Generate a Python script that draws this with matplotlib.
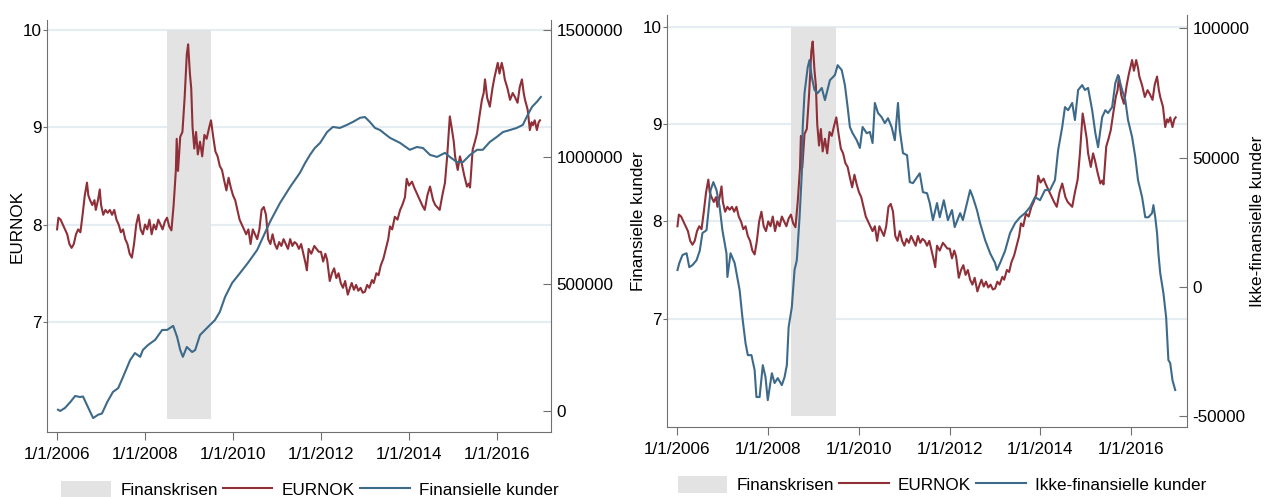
import matplotlib
matplotlib.use("Agg")
import matplotlib.pyplot as plt
from matplotlib.patches import Patch
from matplotlib.lines import Line2D
from matplotlib.ticker import FuncFormatter

plt.rcParams['font.family'] = ['Liberation Sans', 'DejaVu Sans']

# --- EURNOK (decimal year, kurs) ---
eurnok_years = [
    2006.00, 2006.03, 2006.08, 2006.13, 2006.18, 2006.23, 2006.28, 2006.33, 2006.38, 2006.43,
    2006.48, 2006.53, 2006.58, 2006.63, 2006.68, 2006.71, 2006.75, 2006.80, 2006.85, 2006.88,
    2006.93, 2006.97, 2007.00, 2007.05, 2007.10, 2007.15, 2007.20, 2007.25, 2007.30, 2007.35,
    2007.40, 2007.45, 2007.50, 2007.55, 2007.60, 2007.65, 2007.70, 2007.75, 2007.80, 2007.85,
    2007.90, 2007.95, 2008.00, 2008.05, 2008.10, 2008.15, 2008.20, 2008.25, 2008.30, 2008.35,
    2008.40, 2008.45, 2008.50, 2008.55, 2008.60, 2008.65, 2008.70, 2008.72, 2008.75, 2008.80,
    2008.85, 2008.90, 2008.95, 2008.98, 2009.02, 2009.05, 2009.08, 2009.12, 2009.16, 2009.20,
    2009.25, 2009.30, 2009.35, 2009.40, 2009.45, 2009.50, 2009.55, 2009.60, 2009.65, 2009.70,
    2009.75, 2009.80, 2009.85, 2009.90, 2009.95, 2010.00, 2010.05, 2010.10, 2010.15, 2010.20,
    2010.25, 2010.30, 2010.35, 2010.40, 2010.45, 2010.50, 2010.55, 2010.60, 2010.65, 2010.70,
    2010.75, 2010.80, 2010.85, 2010.90, 2010.95, 2011.00, 2011.05, 2011.10, 2011.15, 2011.20,
    2011.25, 2011.30, 2011.35, 2011.40, 2011.45, 2011.50, 2011.55, 2011.60, 2011.65, 2011.68,
    2011.72, 2011.78, 2011.85, 2011.90, 2011.95, 2012.00, 2012.05, 2012.10, 2012.14, 2012.20,
    2012.25, 2012.30, 2012.35, 2012.40, 2012.45, 2012.50, 2012.55, 2012.61, 2012.66, 2012.70,
    2012.75, 2012.80, 2012.85, 2012.90, 2012.95, 2013.00, 2013.05, 2013.10, 2013.16, 2013.20,
    2013.26, 2013.31, 2013.36, 2013.42, 2013.48, 2013.53, 2013.57, 2013.62, 2013.68, 2013.74,
    2013.80, 2013.85, 2013.91, 2013.95, 2014.00, 2014.07, 2014.12, 2014.18, 2014.25, 2014.30,
    2014.36, 2014.42, 2014.48, 2014.55, 2014.60, 2014.64, 2014.70, 2014.76, 2014.82, 2014.87,
    2014.93, 2014.97, 2015.02, 2015.05, 2015.11, 2015.16, 2015.20, 2015.26, 2015.32, 2015.36,
    2015.39, 2015.45, 2015.50, 2015.55, 2015.60, 2015.66, 2015.70, 2015.73, 2015.78, 2015.84,
    2015.90, 2015.95, 2016.02, 2016.06, 2016.11, 2016.15, 2016.18, 2016.24, 2016.30, 2016.36,
    2016.41, 2016.47, 2016.52, 2016.57, 2016.61, 2016.64, 2016.70, 2016.75, 2016.79, 2016.82,
    2016.86, 2016.91, 2016.95, 2016.98,
]
eurnok = [
    7.95, 8.07, 8.05, 8.00, 7.95, 7.90, 7.80, 7.76, 7.80, 7.90,
    7.95, 7.92, 8.10, 8.30, 8.43, 8.30, 8.25, 8.20, 8.25, 8.15,
    8.25, 8.36, 8.20, 8.10, 8.15, 8.12, 8.15, 8.10, 8.15, 8.05,
    8.00, 7.92, 7.95, 7.85, 7.80, 7.70, 7.66, 7.80, 8.00, 8.10,
    7.95, 7.90, 8.00, 7.95, 8.05, 7.90, 8.00, 7.95, 8.05, 8.00,
    7.95, 8.03, 8.07, 7.98, 7.94, 8.20, 8.55, 8.88, 8.55, 8.90,
    8.95, 9.30, 9.75, 9.85, 9.55, 9.40, 9.00, 8.78, 8.95, 8.72,
    8.85, 8.70, 8.92, 8.88, 8.98, 9.07, 8.90, 8.75, 8.70, 8.60,
    8.56, 8.45, 8.35, 8.48, 8.38, 8.30, 8.25, 8.15, 8.05, 8.00,
    7.95, 7.90, 7.95, 7.80, 7.95, 7.90, 7.85, 7.95, 8.15, 8.18,
    8.10, 7.85, 7.80, 7.90, 7.80, 7.75, 7.82, 7.78, 7.85, 7.80,
    7.75, 7.85, 7.78, 7.82, 7.80, 7.75, 7.80, 7.70, 7.60, 7.53,
    7.75, 7.70, 7.78, 7.75, 7.72, 7.72, 7.62, 7.70, 7.64, 7.42,
    7.50, 7.55, 7.45, 7.50, 7.40, 7.35, 7.42, 7.28, 7.35, 7.40,
    7.33, 7.38, 7.32, 7.35, 7.30, 7.31, 7.38, 7.35, 7.43, 7.40,
    7.50, 7.48, 7.58, 7.65, 7.76, 7.85, 7.98, 7.95, 8.08, 8.05,
    8.15, 8.20, 8.28, 8.47, 8.40, 8.44, 8.38, 8.32, 8.25, 8.20,
    8.15, 8.30, 8.39, 8.25, 8.20, 8.18, 8.15, 8.30, 8.43, 8.70,
    9.11, 9.00, 8.85, 8.70, 8.56, 8.70, 8.63, 8.50, 8.39, 8.42,
    8.38, 8.77, 8.85, 8.94, 9.10, 9.28, 9.35, 9.49, 9.30, 9.21,
    9.40, 9.52, 9.66, 9.55, 9.66, 9.58, 9.49, 9.40, 9.28, 9.35,
    9.31, 9.25, 9.41, 9.49, 9.35, 9.28, 9.18, 8.97, 9.05, 9.02,
    9.07, 8.97, 9.05, 9.07,
]

# --- Finansielle kunder ---
fin_years = [
    2006.02, 2006.07, 2006.18, 2006.30, 2006.41, 2006.52, 2006.59, 2006.70, 2006.82, 2006.93,
    2007.02, 2007.14, 2007.27, 2007.39, 2007.50, 2007.66, 2007.77, 2007.89, 2007.95, 2008.07,
    2008.23, 2008.39, 2008.50, 2008.64, 2008.73, 2008.80, 2008.86, 2008.95, 2009.07, 2009.14,
    2009.25, 2009.41, 2009.59, 2009.70, 2009.82, 2009.98, 2010.16, 2010.34, 2010.55, 2010.84,
    2011.07, 2011.30, 2011.52, 2011.64, 2011.75, 2011.86, 2011.98, 2012.14, 2012.27, 2012.43,
    2012.59, 2012.73, 2012.89, 2013.00, 2013.11, 2013.23, 2013.34, 2013.57, 2013.80, 2014.02,
    2014.18, 2014.32, 2014.48, 2014.64, 2014.82, 2014.93, 2015.09, 2015.23, 2015.39, 2015.55,
    2015.68, 2015.84, 2016.00, 2016.14, 2016.30, 2016.45, 2016.59, 2016.70, 2016.80, 2016.91,
    2017.00,
]
fin_kunder = [
    5000, 0, 12000, 35000, 59000, 55000, 57000, 16000, -28000, -15000,
    -10000, 35000, 75000, 90000, 134000, 200000, 228000, 213000, 240000, 260000,
    280000, 319000, 319000, 335000, 291000, 240000, 213000, 252000, 232000, 240000,
    299000, 327000, 358000, 390000, 449000, 504000, 543000, 583000, 634000, 744000,
    819000, 882000, 937000, 976000, 1008000, 1035000, 1055000, 1098000, 1118000, 1114000,
    1126000, 1138000, 1154000, 1157000, 1138000, 1114000, 1106000, 1075000, 1055000, 1028000,
    1039000, 1035000, 1008000, 1000000, 1016000, 1000000, 980000, 980000, 1008000, 1028000,
    1028000, 1059000, 1079000, 1098000, 1106000, 1114000, 1126000, 1165000, 1197000, 1217000,
    1236000,
]

# --- Ikke-finansielle kunder ---
ikke_years = [
    2006.00, 2006.04, 2006.11, 2006.20, 2006.26, 2006.33, 2006.42, 2006.49, 2006.55, 2006.64,
    2006.73, 2006.79, 2006.86, 2006.93, 2006.99, 2007.08, 2007.10, 2007.17, 2007.26, 2007.37,
    2007.43, 2007.50, 2007.55, 2007.63, 2007.70, 2007.74, 2007.81, 2007.88, 2007.94, 2007.99,
    2008.08, 2008.14, 2008.21, 2008.30, 2008.36, 2008.41, 2008.45, 2008.52, 2008.58, 2008.63,
    2008.69, 2008.74, 2008.76, 2008.80, 2008.87, 2008.91, 2008.96, 2009.02, 2009.09, 2009.18,
    2009.25, 2009.36, 2009.47, 2009.53, 2009.62, 2009.69, 2009.75, 2009.80, 2009.86, 2009.95,
    2010.02, 2010.08, 2010.17, 2010.24, 2010.30, 2010.35, 2010.42, 2010.50, 2010.57, 2010.64,
    2010.72, 2010.79, 2010.86, 2010.90, 2010.97, 2011.06, 2011.12, 2011.19, 2011.28, 2011.34,
    2011.41, 2011.50, 2011.56, 2011.63, 2011.72, 2011.78, 2011.87, 2011.96, 2012.05, 2012.11,
    2012.23, 2012.29, 2012.38, 2012.45, 2012.51, 2012.60, 2012.67, 2012.78, 2012.89, 2013.00,
    2013.04, 2013.11, 2013.22, 2013.33, 2013.44, 2013.55, 2013.66, 2013.77, 2013.88, 2013.99,
    2014.10, 2014.21, 2014.32, 2014.39, 2014.48, 2014.54, 2014.61, 2014.70, 2014.76, 2014.83,
    2014.92, 2014.98, 2015.05, 2015.14, 2015.21, 2015.27, 2015.36, 2015.43, 2015.49, 2015.58,
    2015.65, 2015.71, 2015.80, 2015.87, 2015.93, 2016.02, 2016.09, 2016.15, 2016.24, 2016.31,
    2016.38, 2016.46, 2016.49, 2016.53, 2016.57, 2016.60, 2016.64, 2016.71, 2016.77, 2016.82,
    2016.86, 2016.91, 2016.97,
]
ikke_fin = [
    6600, 9300, 12400, 13100, 7700, 8500, 10400, 14000, 20900, 22000,
    37500, 40600, 37500, 30900, 22000, 13000, 3900, 13100, 9300, -1200,
    -11600, -21700, -26300, -26300, -32100, -42500, -42500, -30200, -34800, -43700,
    -33300, -37100, -35200, -37900, -34800, -30200, -15500, -7700, 6600, 10400,
    27000, 44000, 61900, 75000, 85000, 87800, 81200, 76200, 75000, 77000,
    72300, 80000, 82000, 85800, 83900, 78100, 69600, 61900, 59500, 56800,
    53800, 61900, 59500, 60000, 55700, 71200, 67300, 65700, 63400, 65300,
    61900, 56800, 71200, 60700, 51800, 51000, 40600, 40200, 42500, 44000,
    36700, 36300, 32500, 25900, 32500, 27000, 33600, 25900, 29800, 23200,
    28600, 25900, 32500, 37500, 34800, 29800, 24700, 18200, 13100, 9300,
    6600, 9300, 14000, 20900, 24700, 27000, 28600, 30900, 34800, 33600,
    37500, 37500, 41400, 53000, 61900, 69600, 68400, 71200, 64600, 76200,
    78100, 76200, 77000, 68400, 59500, 54100, 65700, 68400, 67300, 69600,
    78900, 82000, 76200, 72300, 64600, 58000, 50300, 41400, 34800, 27000,
    27000, 28600, 31700, 27000, 20900, 13000, 5400, -2300, -11600, -28200,
    -29400, -36000, -39800,
]

# Finanskrisen (shaded period)
crisis_start, crisis_end = 2008.5, 2009.5

tick_years = [2006, 2008, 2010, 2012, 2014, 2016]
tick_labels = ["1/1/%d" % y for y in tick_years]

red = "#8f2f38"
blue = "#3e6a8a"
shade = "#e3e3e3"
grid = "#e6edf2"
spine_col = "#707070"
fs = 12.3

fig = plt.figure(figsize=(12.66, 4.97), dpi=100)


def style_axes(ax, ax2, ylim, ylim2, yticks2):
    ax.set_xlim(2005.77, 2017.23)
    ax.set_ylim(*ylim)
    ax2.set_ylim(*ylim2)
    ax.set_yticks([7, 8, 9, 10])
    ax2.set_yticks(yticks2)
    ax2.yaxis.set_major_formatter(FuncFormatter(lambda v, p: "%d" % v))
    ax.set_xticks(tick_years)
    ax.set_xticklabels(tick_labels)
    for a in (ax, ax2):
        for s in a.spines.values():
            s.set_color(spine_col)
        a.spines['top'].set_visible(False)
    ax.spines['right'].set_visible(False)
    ax2.spines['left'].set_visible(False)
    ax2.spines['bottom'].set_visible(False)
    ax.tick_params(axis='y', colors=spine_col, labelcolor='black', labelsize=fs,
                   length=3, pad=1, direction='out')
    ax.tick_params(axis='x', colors=spine_col, labelcolor='black', labelsize=fs,
                   length=6, pad=5, direction='out')
    ax2.tick_params(axis='y', colors=spine_col, labelcolor='black', labelsize=fs,
                    length=6, pad=4, direction='in')
    ax.grid(axis='y', color=grid, lw=1.6)
    ax.set_axisbelow(True)


def draw_panel(rect, second, second_label, left_label, left_x, right_label, right_x,
               ylim, ylim2, yticks2, legend_x):
    ax = fig.add_axes(rect)
    ax2 = ax.twinx()
    ax.fill_between([crisis_start, crisis_end], 6.0, 10.0, color=shade, lw=0, zorder=1)
    ax.plot(eurnok_years, eurnok, color=red, lw=1.5, zorder=3)
    ax2.plot(second[0], second[1], color=blue, lw=1.5, zorder=3)
    style_axes(ax, ax2, ylim, ylim2, yticks2)
    ax.set_ylabel(left_label, fontsize=fs)
    ax.yaxis.set_label_coords(left_x, 0.5)
    if right_label:
        ax2.set_ylabel(right_label, fontsize=fs, rotation=90)
        ax2.yaxis.set_label_coords(right_x, 0.5)
    handles = [
        Patch(facecolor=shade, edgecolor='none'),
        Line2D([], [], color=red, lw=1.5),
        Line2D([], [], color=blue, lw=1.5),
    ]
    ax2.legend(handles, ["Finanskrisen", "EURNOK", second_label],
               loc='center', bbox_to_anchor=(legend_x, -0.14), ncol=3,
               frameon=False, fontsize=fs, handlelength=2.9, handleheight=1.2,
               handletextpad=0.55, columnspacing=0.3)
    return ax, ax2


draw_panel([0.0371, 0.1308, 0.3981, 0.829], (fin_years, fin_kunder), "Finansielle kunder",
           "EURNOK", -0.044, None, None, (5.87, 10.10), (-82700, 1539000),
           [0, 500000, 1000000, 1500000], 0.522)

draw_panel([0.5269, 0.1408, 0.4107, 0.829], (ikke_years, ikke_fin), "Ikke-finansielle kunder",
           "Finansielle kunder", -0.040, "Ikke-finansielle kunder", 1.121,
           (5.885, 10.123), (-54100, 105200), [-50000, 0, 50000, 100000], 0.529)

fig.savefig("out.png", dpi=100)
